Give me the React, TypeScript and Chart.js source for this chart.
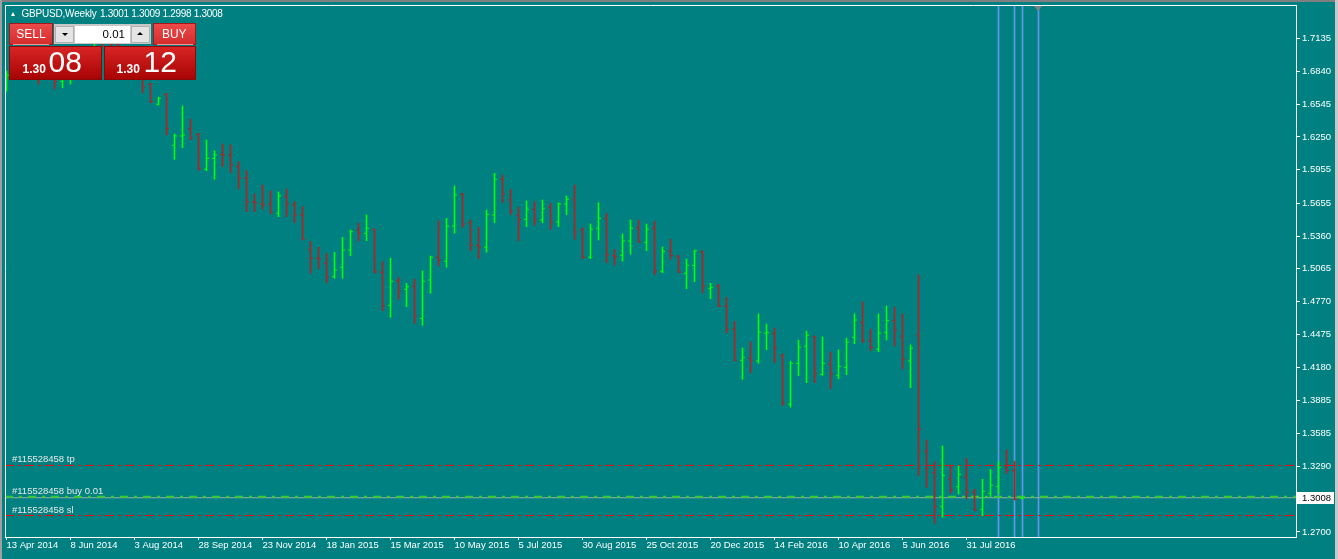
import React, { useEffect, useRef } from "react";
import { Chart, registerables } from "chart.js";

Chart.register(...registerables);

// ---- Weekly GBPUSD bars (index 0 = week of 13 Apr 2014) ----
const opens = [
  1.6745, 1.6805, 1.6815, 1.6888, 1.6868, 1.6820, 1.6835, 1.6750, 1.6800, 1.6980,
  1.7012, 1.7047, 1.7158, 1.7112, 1.7083, 1.6985, 1.6869, 1.6786, 1.6723, 1.6544,
  1.6634, 1.6175, 1.6259, 1.6322, 1.6274, 1.5960, 1.6058, 1.6094, 1.6088, 1.5983,
  1.5884, 1.5668, 1.5648, 1.5648, 1.5564, 1.5713, 1.5639, 1.5549, 1.5243, 1.5160,
  1.5115, 1.4994, 1.5079, 1.5234, 1.5414, 1.5384, 1.5420, 1.5034, 1.4737, 1.4958,
  1.4881, 1.4908, 1.4620, 1.4965, 1.5169, 1.5133, 1.5450, 1.5735, 1.5480, 1.5277,
  1.5259, 1.5549, 1.5870, 1.5684, 1.5549, 1.5510, 1.5600, 1.5504, 1.5618, 1.5486,
  1.5648, 1.5684, 1.5414, 1.5169, 1.5429, 1.5519, 1.5183, 1.5187, 1.5315, 1.5435,
  1.5303, 1.5429, 1.5043, 1.5225, 1.5178, 1.5025, 1.5097, 1.5219, 1.4890, 1.4908,
  1.4731, 1.4522, 1.4243, 1.4261, 1.4237, 1.4486, 1.4486, 1.4284, 1.3848, 1.4216,
  1.4369, 1.4459, 1.4117, 1.4207, 1.4108, 1.4180, 1.4450, 1.4584, 1.4414, 1.4342,
  1.4495, 1.4602, 1.4459, 1.4237, 1.4464, 1.3425, 1.3236, 1.2927, 1.3174, 1.3107,
  1.3197, 1.3057, 1.2904, 1.3048, 1.3107, 1.3293, 1.3251, 1.3001,
];
const highs = [
  1.6843, 1.6852, 1.6922, 1.6996, 1.6880, 1.6925, 1.6850, 1.6850, 1.6992, 1.7062,
  1.7063, 1.7180, 1.7180, 1.7192, 1.7093, 1.6992, 1.6885, 1.6815, 1.6732, 1.6607,
  1.6643, 1.6277, 1.6528, 1.6409, 1.6283, 1.6223, 1.6127, 1.6187, 1.6178, 1.6028,
  1.5947, 1.5738, 1.5818, 1.5765, 1.5756, 1.5782, 1.5668, 1.5623, 1.5309, 1.5259,
  1.5205, 1.5214, 1.5348, 1.5414, 1.5474, 1.5549, 1.5423, 1.5129, 1.5160, 1.4989,
  1.4935, 1.4971, 1.5046, 1.5180, 1.5495, 1.5519, 1.5809, 1.5744, 1.5504, 1.5438,
  1.5594, 1.5924, 1.5908, 1.5780, 1.5618, 1.5675, 1.5668, 1.5684, 1.5654, 1.5659,
  1.5720, 1.5818, 1.5435, 1.5468, 1.5659, 1.5564, 1.5241, 1.5378, 1.5504, 1.5504,
  1.5468, 1.5492, 1.5261, 1.5330, 1.5187, 1.5153, 1.5234, 1.5225, 1.4935, 1.4926,
  1.4809, 1.4593, 1.4354, 1.4407, 1.4659, 1.4569, 1.4533, 1.4300, 1.4234, 1.4425,
  1.4506, 1.4461, 1.4452, 1.4318, 1.4336, 1.4443, 1.4659, 1.4767, 1.4522, 1.4659,
  1.4731, 1.4719, 1.4659, 1.4381, 1.5010, 1.3527, 1.3332, 1.3473, 1.3299, 1.3293,
  1.3362, 1.3084, 1.3174, 1.3263, 1.3332, 1.3437, 1.3335, 1.3009,
];
const lows = [
  1.6663, 1.6776, 1.6785, 1.6855, 1.6725, 1.6800, 1.6680, 1.6692, 1.6725, 1.6960,
  1.6960, 1.7025, 1.7060, 1.7063, 1.6922, 1.6793, 1.6775, 1.6648, 1.6558, 1.6537,
  1.6268, 1.6049, 1.6154, 1.6229, 1.5953, 1.5947, 1.5870, 1.5983, 1.5929, 1.5785,
  1.5578, 1.5578, 1.5603, 1.5564, 1.5534, 1.5534, 1.5480, 1.5324, 1.5025, 1.5066,
  1.4940, 1.4980, 1.4980, 1.5183, 1.5315, 1.5318, 1.5025, 1.4689, 1.4629, 1.4791,
  1.4725, 1.4576, 1.4558, 1.4845, 1.5093, 1.5079, 1.5384, 1.5438, 1.5228, 1.5156,
  1.5214, 1.5480, 1.5659, 1.5552, 1.5318, 1.5444, 1.5456, 1.5480, 1.5420, 1.5444,
  1.5552, 1.5330, 1.5156, 1.5156, 1.5324, 1.5120, 1.5097, 1.5133, 1.5196, 1.5300,
  1.5228, 1.5012, 1.5030, 1.5151, 1.5030, 1.4886, 1.4949, 1.4850, 1.4797, 1.4725,
  1.4491, 1.4239, 1.4072, 1.4132, 1.4216, 1.4338, 1.4221, 1.3839, 1.3821, 1.4105,
  1.4042, 1.4042, 1.4108, 1.3988, 1.4078, 1.4114, 1.4392, 1.4401, 1.4329, 1.4320,
  1.4425, 1.4371, 1.4165, 1.3997, 1.3206, 1.3102, 1.2778, 1.2832, 1.3048, 1.3041,
  1.2999, 1.2891, 1.2846, 1.3017, 1.3041, 1.3227, 1.2987, 1.2998,
];
const closes = [
  1.6805, 1.6815, 1.6888, 1.6868, 1.6820, 1.6835, 1.6750, 1.6800, 1.6980, 1.7012,
  1.7047, 1.7158, 1.7112, 1.7083, 1.6985, 1.6869, 1.6786, 1.6702, 1.6567, 1.6598,
  1.6328, 1.6259, 1.6268, 1.6238, 1.5969, 1.6058, 1.6088, 1.6088, 1.5998, 1.5879,
  1.5668, 1.5659, 1.5639, 1.5567, 1.5720, 1.5648, 1.5549, 1.5330, 1.5160, 1.5153,
  1.4989, 1.5055, 1.5234, 1.5399, 1.5390, 1.5429, 1.5039, 1.4731, 1.4953, 1.4866,
  1.4904, 1.4641, 1.4953, 1.5169, 1.5144, 1.5450, 1.5729, 1.5468, 1.5277, 1.5259,
  1.5555, 1.5870, 1.5738, 1.5585, 1.5510, 1.5600, 1.5504, 1.5609, 1.5486, 1.5648,
  1.5690, 1.5396, 1.5169, 1.5420, 1.5519, 1.5189, 1.5174, 1.5315, 1.5429, 1.5306,
  1.5420, 1.5043, 1.5223, 1.5187, 1.5037, 1.5097, 1.5225, 1.4908, 1.4899, 1.4731,
  1.4522, 1.4243, 1.4270, 1.4243, 1.4495, 1.4491, 1.4351, 1.3857, 1.4216, 1.4360,
  1.4468, 1.4126, 1.4216, 1.4120, 1.4189, 1.4405, 1.4605, 1.4423, 1.4362, 1.4486,
  1.4602, 1.4513, 1.4252, 1.4351, 1.3623, 1.3269, 1.2927, 1.3209, 1.3077, 1.3218,
  1.3057, 1.2898, 1.3066, 1.3120, 1.3281, 1.3251, 1.2994, 1.3008,
];

// ---- Axis ticks ----
const xTickIndex = [0, 8, 16, 24, 32, 40, 48, 56, 64, 72, 80, 88, 96, 104, 112, 120];
const xTickLabels = [
  "13 Apr 2014", "8 Jun 2014", "3 Aug 2014", "28 Sep 2014", "23 Nov 2014", "18 Jan 2015",
  "15 Mar 2015", "10 May 2015", "5 Jul 2015", "30 Aug 2015", "25 Oct 2015", "20 Dec 2015",
  "14 Feb 2016", "10 Apr 2016", "5 Jun 2016", "31 Jul 2016",
];
const yTickValues = [
  1.7135, 1.684, 1.6545, 1.625, 1.5955, 1.5655, 1.536, 1.5065, 1.477, 1.4475, 1.418,
  1.3885, 1.3585, 1.329, 1.27,
];
const yTickLabels = [
  "1.7135", "1.6840", "1.6545", "1.6250", "1.5955", "1.5655", "1.5360", "1.5065", "1.4770",
  "1.4475", "1.4180", "1.3885", "1.3585", "1.3290", "1.2700",
];

// ---- Chart objects ----
const verticalLineIndex = [124, 126, 127, 129];
const tpPrice = 1.3298;
const entryPrice = 1.3016;
const slPrice = 1.2848;
const bidPrice = 1.3008;
const askPrice = 1.3012;
const orderTicket = "#115528458";
const symbolTitle = "GBPUSD,Weekly";
const lotSize = "0.01";

const X_MIN = -0.1875;
const X_MAX = 161.1875;
const Y_MIN = 1.2655;
const Y_MAX = 1.7436;

const UP = "#00FF00";
const DOWN = "#B22222";
const FONT = '"Liberation Sans", Arial, sans-serif';

const barColors = opens.map((o, i) => (closes[i] >= o ? UP : DOWN));

const overlayPlugin = {
  id: "mtOverlay",
  afterDatasetsDraw(chart: any) {
    const { ctx, chartArea: a, scales } = chart;
    const y = scales.y;
    ctx.save();
    ctx.strokeStyle = "#FFFFFF";
    ctx.lineWidth = 1;
    ctx.beginPath();
    ctx.moveTo(a.left + 0.5, a.bottom);
    ctx.lineTo(a.left + 0.5, a.top + 0.5);
    ctx.lineTo(a.right, a.top + 0.5);
    ctx.stroke();
    ctx.font = `9.5px ${FONT}`;
    ctx.fillStyle = "#E8E8E8";
    ctx.textAlign = "left";
    ctx.textBaseline = "bottom";
    const labels: [string, number][] = [
      [`${orderTicket} tp`, tpPrice],
      [`${orderTicket} buy ${lotSize}`, entryPrice],
      [`${orderTicket} sl`, slPrice],
    ];
    labels.forEach(([t, p]) => {
      ctx.fillText(t, a.left + 7, Math.round(y.getPixelForValue(p)) - 1);
    });
    ctx.restore();
  },
  afterDraw(chart: any) {
    const { ctx, chartArea: a, scales } = chart;
    const yy = Math.round(scales.y.getPixelForValue(bidPrice));
    ctx.save();
    ctx.fillStyle = "#FFFFFF";
    ctx.fillRect(a.right + 1, yy - 6, 37, 12);
    ctx.fillStyle = "#000000";
    ctx.font = `9.5px ${FONT}`;
    ctx.textAlign = "left";
    ctx.textBaseline = "middle";
    ctx.fillText(bidPrice.toFixed(4), a.right + 6, yy + 0.5);
    ctx.restore();
  },
};

function hLine(price: number, color: string, dash: number[], width: number, order: number) {
  return {
    type: "line",
    data: [
      { x: X_MIN, y: price },
      { x: X_MAX, y: price },
    ],
    borderColor: color,
    borderWidth: width,
    borderDash: dash,
    pointRadius: 0,
    order,
  };
}

export default function App() {
  const ref = useRef<HTMLCanvasElement>(null);

  useEffect(() => {
    if (!ref.current) return;
    const chart = new Chart(ref.current, {
      type: "bar",
      data: {
        datasets: [
          {
            type: "bar",
            data: verticalLineIndex.map((x) => ({ x, y: [Y_MIN, Y_MAX] })),
            backgroundColor: "#6495ED",
            barThickness: 1,
            borderWidth: 0,
            grouped: false,
            order: 10,
          } as any,
          hLine(tpPrice, "#FF0000", [9, 4, 3, 4], 1, 6),
          hLine(slPrice, "#FF0000", [9, 4, 3, 4], 1, 6),
          hLine(bidPrice, "#A0A8A8", [], 1, 6),
          hLine(entryPrice, "#32CD32", [8, 6, 3, 6], 2, 5),
          {
            type: "bar",
            data: opens.map((_, i) => ({ x: i, y: [lows[i], highs[i]] })),
            backgroundColor: barColors,
            barThickness: 1,
            borderWidth: 0,
            grouped: false,
            order: 2,
          } as any,
          {
            type: "scatter",
            data: opens.map((o, i) => ({ x: i - 0.1875, y: o })),
            pointStyle: "line",
            pointRadius: 1,
            pointBorderWidth: 1,
            pointBorderColor: barColors,
            pointBackgroundColor: barColors,
            order: 1,
          } as any,
          {
            type: "scatter",
            data: closes.map((c, i) => ({ x: i + 0.1875, y: c })),
            pointStyle: "line",
            pointRadius: 1,
            pointBorderWidth: 1,
            pointBorderColor: barColors,
            pointBackgroundColor: barColors,
            order: 1,
          } as any,
        ],
      },
      options: {
        responsive: false,
        animation: false,
        events: [],
        layout: { padding: { left: 5, top: 5, right: 0, bottom: 0 } },
        plugins: { legend: { display: false }, tooltip: { enabled: false } },
        scales: {
          x: {
            type: "linear",
            min: X_MIN,
            max: X_MAX,
            offset: false,
            afterBuildTicks: (s: any) => {
              s.ticks = xTickIndex.map((v) => ({ value: v }));
            },
            afterFit: (s: any) => {
              s.height = 22;
              s.paddingLeft = 0;
              s.paddingRight = 0;
              s.paddingTop = 0;
              s.paddingBottom = 0;
            },
            ticks: {
              callback: (_v: any, idx: number) => xTickLabels[idx] ?? "",
              autoSkip: false,
              maxRotation: 0,
              minRotation: 0,
              align: "start",
              color: "#FFFFFF",
              padding: 0,
              font: { family: FONT, size: 9.5 },
            },
            grid: { drawOnChartArea: false, drawTicks: true, tickLength: 3, color: "#FFFFFF", offset: false },
            border: { color: "#FFFFFF", width: 1 },
          },
          y: {
            type: "linear",
            position: "right",
            min: Y_MIN,
            max: Y_MAX,
            afterBuildTicks: (s: any) => {
              s.ticks = yTickValues.map((v) => ({ value: v }));
            },
            afterFit: (s: any) => {
              s.width = 42;
              s.paddingTop = 0;
              s.paddingBottom = 0;
              s.paddingLeft = 0;
              s.paddingRight = 0;
            },
            ticks: {
              callback: (_v: any, idx: number) => yTickLabels[idx] ?? "",
              autoSkip: false,
              color: "#FFFFFF",
              padding: 2,
              font: { family: FONT, size: 9.5 },
            },
            grid: { drawOnChartArea: false, drawTicks: true, tickLength: 4, color: "#FFFFFF" },
            border: { color: "#FFFFFF", width: 1 },
          },
        },
      } as any,
      plugins: [overlayPlugin],
    } as any);
    return () => chart.destroy();
  }, []);

  const last = opens.length - 1;
  const ohlcText = [opens[last], highs[last], lows[last], closes[last]].map((v) => v.toFixed(4)).join(" ");
  const bidStr = bidPrice.toFixed(4);
  const askStr = askPrice.toFixed(4);

  const btn: React.CSSProperties = {
    position: "absolute",
    top: 23,
    height: 22,
    background: "linear-gradient(to bottom, #EE4A4A, #D42C2C)",
    border: "1px solid #A01818",
    boxSizing: "border-box",
    color: "#FFFFFF",
    fontSize: 12,
    lineHeight: "20px",
    textAlign: "center",
  };
  const priceBox: React.CSSProperties = {
    position: "absolute",
    top: 45.5,
    height: 34,
    background: "linear-gradient(to bottom, #D82424, #A80404)",
    border: "1px solid #8A0A0A",
    boxSizing: "border-box",
  };
  const small: React.CSSProperties = {
    position: "absolute",
    color: "#FFFFFF",
    fontSize: 12,
    fontWeight: "bold",
    lineHeight: "12px",
    top: 62.5,
    whiteSpace: "nowrap",
  };
  const big: React.CSSProperties = {
    position: "absolute",
    color: "#FFFFFF",
    fontSize: 30,
    lineHeight: "30px",
    top: 47,
    whiteSpace: "nowrap",
  };

  return (
    <div
      style={{
        position: "fixed",
        left: 0,
        top: 0,
        width: 1338,
        height: 559,
        background: "#008080",
        overflow: "hidden",
        fontFamily: FONT,
      }}
    >
      <canvas ref={ref} width={1338} height={559} style={{ position: "absolute", left: 0, top: 0 }} />

      {/* window edges */}
      <div style={{ position: "absolute", left: 0, top: 0, width: 1338, height: 2, background: "#808080" }} />
      <div style={{ position: "absolute", left: 0, top: 0, width: 2, height: 559, background: "#A0A0A0" }} />
      <div style={{ position: "absolute", left: 1335, top: 0, width: 3, height: 559, background: "#C8C8C8" }} />

      {/* chart shift marker */}
      <div
        style={{
          position: "absolute",
          left: 1033.5,
          top: 6,
          width: 0,
          height: 0,
          borderLeft: "4.5px solid transparent",
          borderRight: "4.5px solid transparent",
          borderTop: "5px solid #808080",
        }}
      />

      {/* header */}
      <div
        style={{
          position: "absolute",
          left: 11,
          top: 11.5,
          width: 0,
          height: 0,
          borderLeft: "2.5px solid transparent",
          borderRight: "2.5px solid transparent",
          borderBottom: "4px solid #FFFFFF",
        }}
      />
      <div style={{ position: "absolute", left: 21.5, top: 8.7, color: "#FFFFFF", fontSize: 10, lineHeight: "10px", letterSpacing: -0.2, whiteSpace: "nowrap" }}>
        {symbolTitle}
      </div>
      <div style={{ position: "absolute", left: 100, top: 8.7, color: "#FFFFFF", fontSize: 10, lineHeight: "10px", letterSpacing: -0.3, whiteSpace: "nowrap" }}>
        {ohlcText}
      </div>

      {/* one-click trading panel */}
      <div style={{ ...btn, left: 9, width: 44 }}>SELL</div>
      <div style={{ position: "absolute", left: 13, top: 43.5, width: 36, height: 1, background: "#F49090" }} />
      <div style={{ ...btn, left: 152.5, width: 43.5 }}>BUY</div>
      <div style={{ position: "absolute", left: 156.5, top: 43.5, width: 36, height: 1, background: "#F49090" }} />

      <div style={{ position: "absolute", left: 54, top: 24, width: 97, height: 20, background: "#C8C8C8" }} />
      <div style={{ position: "absolute", left: 55, top: 25.5, width: 19, height: 17, background: "#E4E4E4", border: "1px solid #B0B0B0", boxSizing: "border-box" }} />
      <div style={{ position: "absolute", left: 61.5, top: 32.5, width: 0, height: 0, borderLeft: "3px solid transparent", borderRight: "3px solid transparent", borderTop: "3px solid #000" }} />
      <div style={{ position: "absolute", left: 74.5, top: 25.5, width: 55.5, height: 17, background: "#FFFFFF", color: "#000", fontSize: 11.5, lineHeight: "17px", textAlign: "right", paddingRight: 5, boxSizing: "border-box" }}>
        {lotSize}
      </div>
      <div style={{ position: "absolute", left: 130.5, top: 25.5, width: 19.5, height: 17, background: "#E4E4E4", border: "1px solid #B0B0B0", boxSizing: "border-box" }} />
      <div style={{ position: "absolute", left: 137, top: 32, width: 0, height: 0, borderLeft: "3px solid transparent", borderRight: "3px solid transparent", borderBottom: "3px solid #000" }} />

      <div style={{ ...priceBox, left: 9, width: 93 }} />
      <div style={{ ...priceBox, left: 104, width: 92 }} />
      <div style={{ ...small, left: 22.5 }}>{bidStr.slice(0, 4)}</div>
      <div style={{ ...big, left: 48.5 }}>{bidStr.slice(4)}</div>
      <div style={{ ...small, left: 116.5 }}>{askStr.slice(0, 4)}</div>
      <div style={{ ...big, left: 143.5 }}>{askStr.slice(4)}</div>
    </div>
  );
}
